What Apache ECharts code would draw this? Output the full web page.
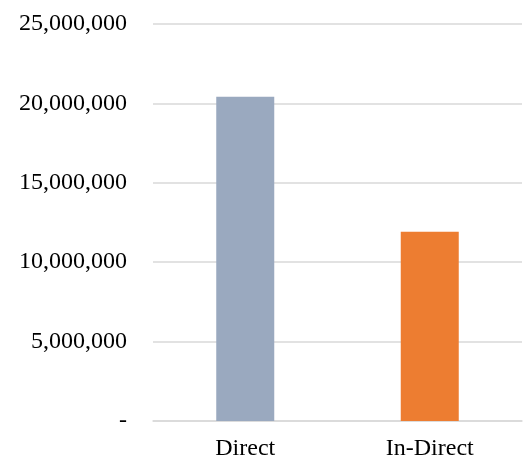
<!DOCTYPE html>
<html><head><meta charset="utf-8">
<script src="https://cdn.jsdelivr.net/npm/echarts@6/dist/echarts.min.js"></script>
<style>html,body{margin:0;padding:0;background:#fff}#c{width:530px;height:456px}</style>
</head><body><div id="c"></div>
<script>
const categories = ['Direct', 'In-Direct'];
const values = [20420000, 11910000];
const barColors = ['#9aa9bf', '#ed7d31'];
const yMax = 25000000;
const yInterval = 5000000;

const chart = echarts.init(document.getElementById('c'), null, {renderer: 'canvas'});
chart.setOption({
  animation: false,
  grid: {left: 153, right: 8, top: 24, bottom: 35, containLabel: false, outerBoundsMode: 'none'},
  xAxis: {
    type: 'category', data: categories,
    axisLine: {show: true, lineStyle: {color: '#d9d9d9', width: 1.5}},
    axisTick: {show: false},
    axisLabel: {color: '#000', fontFamily: 'Liberation Serif', fontSize: 24, margin: 16}
  },
  yAxis: {
    type: 'value', min: 0, max: yMax, interval: yInterval,
    axisLine: {show: false}, axisTick: {show: false},
    splitLine: {lineStyle: {color: '#d9d9d9', width: 1.5}},
    axisLabel: {
      color: '#000', fontFamily: 'Liberation Serif', fontSize: 24, margin: 26,
      formatter: v => v === 0 ? '-' : v.toLocaleString('en-US')
    }
  },
  series: [{
    type: 'bar', barWidth: 58,
    data: values.map((v, i) => ({value: v, itemStyle: {color: barColors[i]}}))
  }]
});
</script></body></html>
